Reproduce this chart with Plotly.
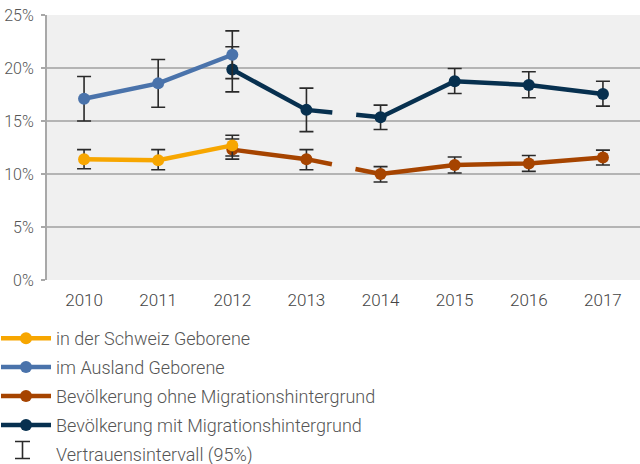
import plotly.graph_objects as go

years = ["2010", "2011", "2012", "2013", "2014", "2015", "2016", "2017"]

# in der Schweiz Geborene (2010-2012)
ch_years = ["2010", "2011", "2012"]
ch_val = [11.4, 11.3, 12.7]
ch_hi = [12.3, 12.3, 13.65]
ch_lo = [10.5, 10.4, 11.7]

# im Ausland Geborene (2010-2012)
au_years = ["2010", "2011", "2012"]
au_val = [17.1, 18.55, 21.25]
au_hi = [19.2, 20.8, 23.5]
au_lo = [15.0, 16.3, 19.0]

# Bevölkerung ohne Migrationshintergrund (2012-2017)
oh_years = ["2012", "2013", "2014", "2015", "2016", "2017"]
oh_val = [12.3, 11.4, 10.0, 10.85, 11.0, 11.55]
oh_hi = [13.3, 12.3, 10.7, 11.6, 11.75, 12.25]
oh_lo = [11.4, 10.4, 9.25, 10.1, 10.25, 10.85]

# Bevölkerung mit Migrationshintergrund (2012-2017)
mi_years = ["2012", "2013", "2014", "2015", "2016", "2017"]
mi_val = [19.85, 16.05, 15.35, 18.75, 18.4, 17.55]
mi_hi = [22.0, 18.1, 16.5, 19.95, 19.65, 18.75]
mi_lo = [17.75, 14.0, 14.2, 17.6, 17.2, 16.4]

y_ticks = [0, 5, 10, 15, 20, 25]
y_labels = ["0%", "5%", "10%", "15%", "20%", "25%"]

C_CH = "#F7A600"
C_AU = "#4A73AB"
C_OH = "#A64400"
C_MI = "#07304F"
C_ERR = "#2a2a2a"
FONT = "Roboto"

W, H = 640, 464
ML, MR, MT, MB = 47, 0, 15, 184
PW, PH = W - ML - MR, H - MT - MB

fig = go.Figure()


def err(vals, hi, lo):
    return dict(type="data", symmetric=False,
                array=[h - v for v, h in zip(vals, hi)],
                arrayminus=[v - l for v, l in zip(vals, lo)],
                color=C_ERR, thickness=1.6, width=7)


def series(name, xs, vals, hi, lo, color, rank, split=None):
    if split is None:
        parts = [(xs, vals, hi, lo, True)]
    else:
        parts = [(xs[:split], vals[:split], hi[:split], lo[:split], True),
                 (xs[split:], vals[split:], hi[split:], lo[split:], False)]
        # connector with a gap in its middle
        fig.add_trace(go.Scatter(
            x=xs[split - 1:split + 1], y=vals[split - 1:split + 1], mode="lines",
            line=dict(color=color, width=4.5, dash="26px,24px,40px"),
            showlegend=False, hoverinfo="skip"))
    for px, pv, ph, pl, leg in parts:
        fig.add_trace(go.Scatter(
            x=px, y=pv, name=name, mode="lines+markers",
            line=dict(color=color, width=4.5),
            marker=dict(color=color, size=12),
            error_y=err(pv, ph, pl),
            showlegend=leg, legendrank=rank, legendgroup=name))


series("Bevölkerung ohne Migrationshintergrund", oh_years, oh_val, oh_hi, oh_lo, C_OH, 3, split=2)
series("Bevölkerung mit Migrationshintergrund", mi_years, mi_val, mi_hi, mi_lo, C_MI, 4, split=2)
series("in der Schweiz Geborene", ch_years, ch_val, ch_hi, ch_lo, C_CH, 1)
series("im Ausland Geborene", au_years, au_val, au_hi, au_lo, C_AU, 2)

# legend entry for the confidence interval (glyph drawn as a shape below)
fig.add_trace(go.Scatter(
    x=[years[0]], y=[None], name="Vertrauensintervall (95%)", mode="markers",
    marker=dict(symbol="circle", size=1, color="rgba(0,0,0,0)"),
    legendrank=5, legendgroup="ci"))


def px2paper(xp, yp):
    return (xp - ML) / PW, 1 - (yp - MT) / PH


# I-beam glyph for the confidence-interval legend entry
cx, cy, hh, hw = 22.5, 450, 8.5, 7.5
pts = [(cx - hw, cy - hh), (cx + hw, cy - hh), (cx, cy - hh), (cx, cy + hh),
       (cx - hw, cy + hh), (cx + hw, cy + hh)]
pp = [px2paper(*p) for p in pts]
path = (f"M{pp[0][0]},{pp[0][1]} L{pp[1][0]},{pp[1][1]} "
        f"M{pp[2][0]},{pp[2][1]} L{pp[3][0]},{pp[3][1]} "
        f"M{pp[4][0]},{pp[4][1]} L{pp[5][0]},{pp[5][1]}")
fig.add_shape(type="path", xref="paper", yref="paper", path=path,
              line=dict(color=C_ERR, width=1.6))

lx, ly = px2paper(-4, 320)

fig.update_layout(
    width=W, height=H,
    margin=dict(l=ML, r=MR, t=MT, b=MB, autoexpand=False),
    paper_bgcolor="white",
    plot_bgcolor="#F0F0F0",
    font=dict(family=FONT, size=17, color="#555555"),
    showlegend=True,
    legend=dict(
        xref="paper", yref="paper", x=lx, y=ly,
        xanchor="left", yanchor="top",
        orientation="v", traceorder="grouped", tracegroupgap=2.5,
        itemwidth=50, bgcolor="rgba(0,0,0,0)",
        font=dict(family=FONT, size=18, color="#555555", weight=300),
        itemclick=False, itemdoubleclick=False,
    ),
    xaxis=dict(
        type="category", categoryorder="array", categoryarray=years,
        range=[-0.5, 7.5], showgrid=False, zeroline=False,
        showline=False, ticks="", tickangle=0, ticklabelstandoff=8,
        tickfont=dict(family=FONT, size=17, color="#444444", weight=300),
    ),
    yaxis=dict(
        range=[0, 25], tickvals=y_ticks, ticktext=y_labels,
        showgrid=True, gridcolor="#B4B4B4", gridwidth=2,
        zeroline=False, showline=True, linecolor="#A8A8A8", linewidth=2,
        ticks="outside", ticklen=4, tickcolor="#A8A8A8", tickwidth=2,
        tickfont=dict(family=FONT, size=16, color="#555555", weight=300),
        ticklabelstandoff=4,
    ),
)

fig.write_html("out.html", config={"displayModeBar": False},
               post_script="document.body.style.margin='0';")
